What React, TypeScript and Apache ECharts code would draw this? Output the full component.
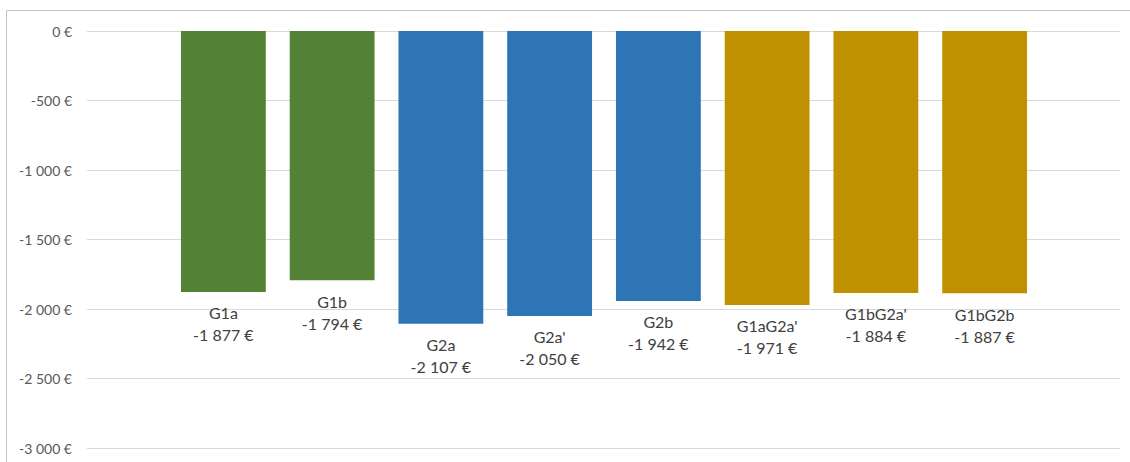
import React, { useEffect, useRef } from "react";
import * as echarts from "echarts";

const categories = ["G1a", "G1b", "G2a", "G2a'", "G2b", "G1aG2a'", "G1bG2a'", "G1bG2b"];
const values = [-1877, -1794, -2107, -2050, -1942, -1971, -1884, -1887];
const groups = ["G1", "G1", "G2", "G2", "G2", "G1G2", "G1G2", "G1G2"];
const groupColors: Record<string, string> = { G1: "#538135", G2: "#2E75B6", G1G2: "#BF9000" };
const yMin = -3000;
const yMax = 0;
const yStep = 500;

function fmtEuro(v: number): string {
  const s = Math.abs(Math.round(v)).toString().replace(/\B(?=(\d{3})+(?!\d))/g, " ");
  return (v < 0 ? "-" : "") + s + " €";
}

export default function App() {
  const ref = useRef<HTMLDivElement>(null);
  useEffect(() => {
    if (!ref.current) return;
    const chart = echarts.init(ref.current, undefined, { renderer: "svg" });
    const font = "Lato, 'Noto Sans', sans-serif";
    chart.setOption({
      animation: false,
      backgroundColor: "#ffffff",
      graphic: [
        { type: "line", shape: { x1: 6.5, y1: 10.5, x2: 1130, y2: 10.5 }, style: { stroke: "#c4c4c4", lineWidth: 1 } },
        { type: "line", shape: { x1: 6.5, y1: 10.5, x2: 6.5, y2: 462 }, style: { stroke: "#c4c4c4", lineWidth: 1 } },
      ],
      grid: [
        { left: 87, top: 31, width: 1033, height: 417, containLabel: false },
        { left: 169, top: 31, width: 870, height: 417, containLabel: false },
      ],
      xAxis: [
        { type: "value", gridIndex: 0, show: false, min: 0, max: 1 },
        { type: "category", gridIndex: 1, data: categories, show: false },
      ],
      yAxis: [
        {
          type: "value",
          gridIndex: 0,
          min: yMin,
          max: yMax,
          interval: yStep,
          axisLine: { show: false },
          axisTick: { show: false },
          axisLabel: {
            formatter: (v: number) => fmtEuro(v),
            color: "#595959",
            fontSize: 14,
            fontFamily: font,
            margin: 15,
          },
          splitLine: { lineStyle: { color: "#d9d9d9", width: 1 } },
        },
        { type: "value", gridIndex: 1, min: yMin, max: yMax, interval: yStep, show: false },
      ],
      series: [
        {
          type: "bar",
          xAxisIndex: 1,
          yAxisIndex: 1,
          barCategoryGap: "22%",
          data: values.map((v, i) => ({ value: v, itemStyle: { color: groupColors[groups[i]] } })),
          label: {
            show: true,
            position: "bottom",
            distance: 10,
            formatter: (p: any) => p.name + "\n" + fmtEuro(p.value),
            color: "#404040",
            fontSize: 16,
            lineHeight: 22,
            fontFamily: font,
          },
        },
      ],
    });
    return () => chart.dispose();
  }, []);
  return <div ref={ref} style={{ position: "fixed", left: 0, top: 0, width: 1130, height: 462 }} />;
}
